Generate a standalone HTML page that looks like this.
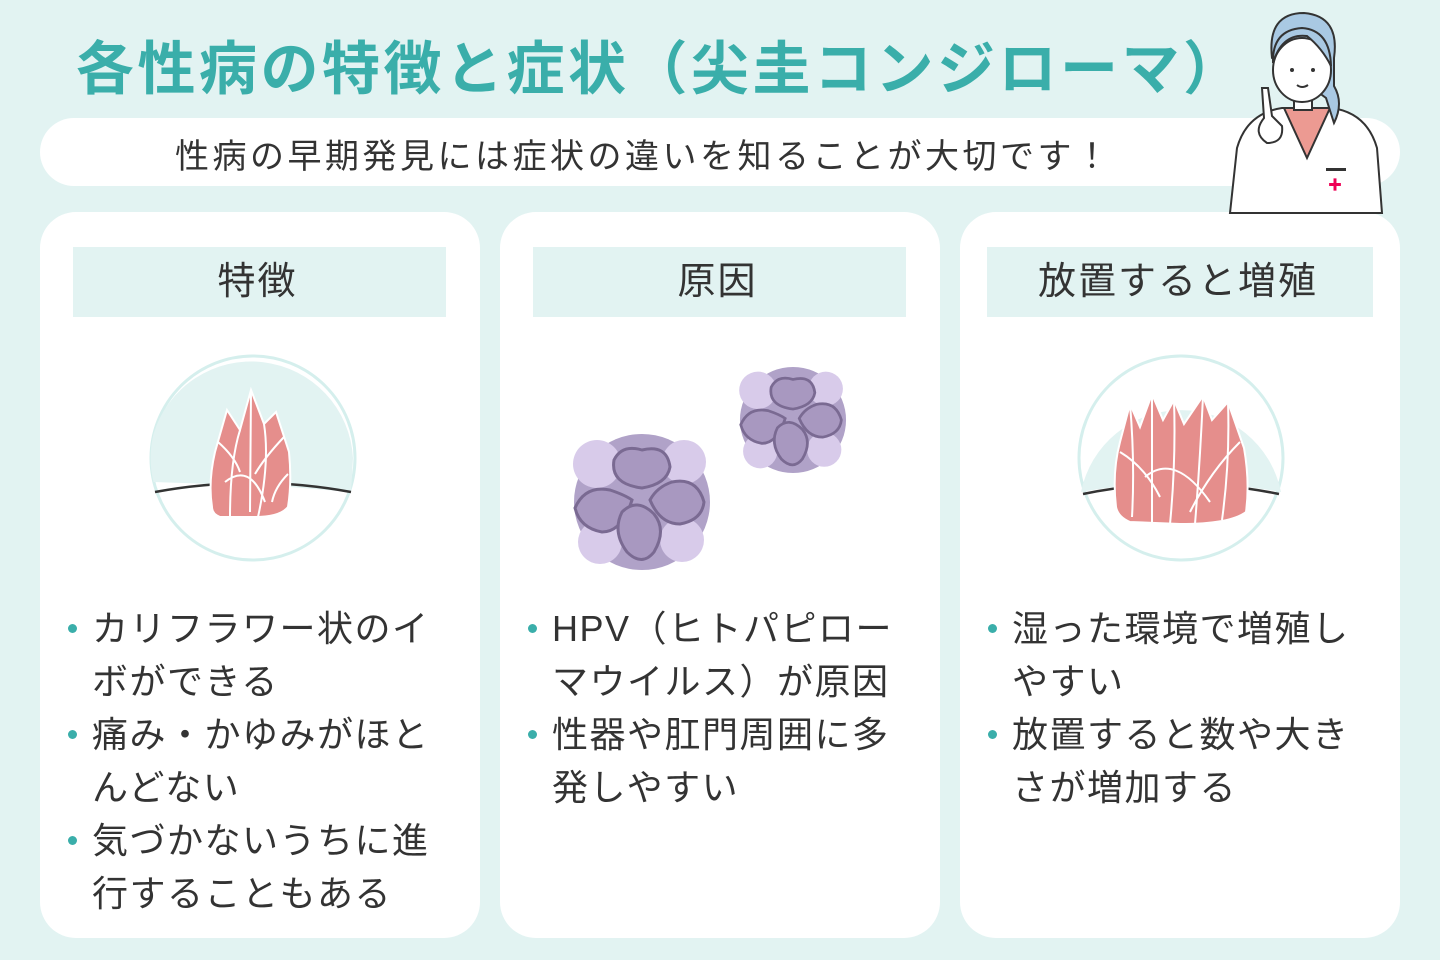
<!DOCTYPE html>
<html><head><meta charset="utf-8"><style>
body{margin:0;width:1440px;height:960px;background:#e2f3f2;font-family:"Liberation Sans","Noto Sans CJK JP",sans-serif;position:relative;overflow:hidden;color:#333}
.title{position:absolute;left:76px;top:22px;font-size:58px;font-weight:bold;color:#3aaeaa;white-space:nowrap;letter-spacing:3.5px}
.pill{position:absolute;left:40px;top:118px;width:1360px;height:68px;background:#fff;border-radius:34px}
.pill span{position:absolute;left:135px;top:11px;font-size:34px;white-space:nowrap;color:#333;letter-spacing:3.5px}
.card{position:absolute;top:212px;width:440px;height:726px;background:#fff;border-radius:36px}
.hd{position:absolute;top:35px;height:70px;background:#e2f3f2;font-size:38px;text-align:center;line-height:70px;color:#333;letter-spacing:2px;text-indent:-4px}
ul{position:absolute;top:390px;margin:0;padding:0;list-style:none;font-size:36px;line-height:53px;color:#333;letter-spacing:1.5px}
li{position:relative;padding-left:52px}
li:before{content:"";position:absolute;left:28px;top:22px;width:9px;height:9px;border-radius:50%;background:#3aaeaa}
</style></head><body>
<div class="title">各性病の特徴と症状（尖圭コンジローマ）</div>
<div class="pill"><span>性病の早期発見には症状の違いを知ることが大切です！</span></div>

<div class="card" style="left:40px">
<div class="hd" style="left:33px;width:373px">特徴</div>
<svg style="position:absolute;left:0;top:0" width="440" height="380">
<circle cx="213" cy="246" r="102" fill="#fff" stroke="#d5efed" stroke-width="3"/>
<path d="M113.5,270 A102,102 0 0 1 113.5,222 L113.5,222 A102,102 0 0 1 313,246 L311,280 L250,275 Q213,268 172,272 Z" fill="#e2f3f2"/>
<path d="M115,280 Q213,262 311,280" stroke="#333" stroke-width="2.5" fill="none"/>
<path d="M172,295 Q168,270 175,240 L187,198 L200,218 L211,178 L224,212 L236,200 L249,240 Q252,270 248,295 Q240,305 215,305 L180,305 Q172,302 172,295Z" fill="#e58e8c" stroke="#fff" stroke-width="2"/>
<path d="M178,230 Q195,245 200,260 M200,218 Q190,250 190,305 M211,178 L210,300 M224,212 Q230,250 218,305 M244,225 Q225,245 215,262 M248,262 Q235,275 232,290 M185,270 Q210,250 225,290" stroke="#fff" stroke-width="2" fill="none"/>
</svg>
<ul style="left:0;width:400px"><li>カリフラワー状のイボができる</li><li>痛み・かゆみがほとんどない</li><li>気づかないうちに進行することもある</li></ul>
</div>

<div class="card" style="left:500px">
<div class="hd" style="left:33px;width:373px">原因</div>
<svg style="position:absolute;left:0;top:0" width="440" height="380">
<g transform="translate(142,290)">
<circle r="68" fill="#b0a2c8"/>
<circle cx="-45" cy="-38" r="24" fill="#d8cbea"/><circle cx="42" cy="-40" r="22" fill="#d8cbea"/>
<circle cx="-42" cy="40" r="22" fill="#d8cbea"/><circle cx="40" cy="38" r="22" fill="#d8cbea"/>
<g fill="#a898c0" stroke="#7a6a92" stroke-width="3">
<path d="M-28,-42 Q-20,-58 0,-52 Q25,-58 28,-35 Q25,-18 0,-14 Q-32,-18 -28,-42Z"/>
<path d="M-8,-10 Q-15,-15 -30,-20 Q-55,-25 -65,-2 Q-60,18 -38,22 Q-18,22 -8,-10Z" transform="translate(-2,8)"/>
<path d="M8,-2 Q15,-15 30,-20 Q55,-25 62,0 Q60,18 38,22 Q18,22 8,-2Z"/>
<path d="M-20,10 Q-5,-5 12,12 Q25,28 12,50 Q0,65 -15,50 Q-30,30 -20,10Z"/>
</g></g>
<g transform="translate(293,208) scale(0.78)">
<circle r="68" fill="#b0a2c8"/>
<circle cx="-45" cy="-38" r="24" fill="#d8cbea"/><circle cx="42" cy="-40" r="22" fill="#d8cbea"/>
<circle cx="-42" cy="40" r="22" fill="#d8cbea"/><circle cx="40" cy="38" r="22" fill="#d8cbea"/>
<g fill="#a898c0" stroke="#7a6a92" stroke-width="3.5">
<path d="M-28,-42 Q-20,-58 0,-52 Q25,-58 28,-35 Q25,-18 0,-14 Q-32,-18 -28,-42Z"/>
<path d="M-8,-10 Q-15,-15 -30,-20 Q-55,-25 -65,-2 Q-60,18 -38,22 Q-18,22 -8,-10Z" transform="translate(-2,8)"/>
<path d="M8,-2 Q15,-15 30,-20 Q55,-25 62,0 Q60,18 38,22 Q18,22 8,-2Z"/>
<path d="M-20,10 Q-5,-5 12,12 Q25,28 12,50 Q0,65 -15,50 Q-30,30 -20,10Z"/>
</g></g>
</svg>
<ul style="left:0;width:400px"><li>HPV（ヒトパピローマウイルス）が原因</li><li>性器や肛門周囲に多発しやすい</li></ul>
</div>

<div class="card" style="left:960px">
<div class="hd" style="left:27px;width:386px">放置すると増殖</div>
<svg style="position:absolute;left:0;top:0" width="440" height="380">
<circle cx="221" cy="246" r="102" fill="#fff" stroke="#d5efed" stroke-width="3"/>
<path d="M121,280 A102,102 0 0 1 321,280 Q221,262 121,280Z" fill="#e2f3f2"/>
<path d="M123,282 Q221,262 319,282" stroke="#333" stroke-width="2.5" fill="none"/>
<path d="M156,295 Q152,260 160,230 L170,192 L180,215 L192,182 L203,208 L214,188 L224,212 L243,184 L252,208 L268,190 L284,236 Q290,270 286,300 Q270,312 220,312 L170,310 Q158,305 156,295Z" fill="#e58e8c" stroke="#fff" stroke-width="2"/>
<path d="M170,192 Q175,250 172,305 M192,182 L192,310 M214,188 Q216,250 210,312 M243,184 Q240,250 235,312 M268,190 Q270,250 262,308 M160,240 Q185,255 200,285 M280,230 Q250,260 230,300 M185,265 Q215,240 250,290" stroke="#fff" stroke-width="2" fill="none"/>
</svg>
<ul style="left:0;width:400px"><li>湿った環境で増殖しやすい</li><li>放置すると数や大きさが増加する</li></ul>
</div>

<svg style="position:absolute;left:1222px;top:8px" width="170" height="210">
<path d="M8,205 L15,140 Q25,105 60,100 L110,100 Q145,105 155,140 L160,205Z" fill="#fff" stroke="#333" stroke-width="2"/>
<path d="M62,100 L85,150 L108,100Z" fill="#ec9a92" stroke="#333" stroke-width="2"/>
<path d="M50,50 Q45,5 82,5 Q118,8 112,50 L112,78 Q122,95 112,115 L104,90Z" fill="#a9c9e3" stroke="#333" stroke-width="2"/>
<rect x="72" y="80" width="18" height="22" fill="#fff" stroke="#333" stroke-width="2"/>
<ellipse cx="80" cy="62" rx="29" ry="32" fill="#fff" stroke="#333" stroke-width="2"/>
<path d="M51,55 Q60,25 85,28 Q100,40 109,58 Q108,22 80,20 Q50,22 51,55Z" fill="#a9c9e3" stroke="#333" stroke-width="2"/>
<circle cx="70" cy="62" r="2" fill="#333"/><circle cx="91" cy="62" r="2" fill="#333"/>
<path d="M75,77 Q80,81 86,77" stroke="#333" stroke-width="2" fill="none"/>
<path d="M40,80 L42,110 Q30,125 45,135 Q62,135 60,118 L50,108 L46,80Z" fill="#fff" stroke="#333" stroke-width="2"/>
<rect x="104" y="160" width="20" height="3" fill="#333"/>
<text x="106" y="182" font-size="14" fill="#e05">✚</text>
</svg>
</body></html>
